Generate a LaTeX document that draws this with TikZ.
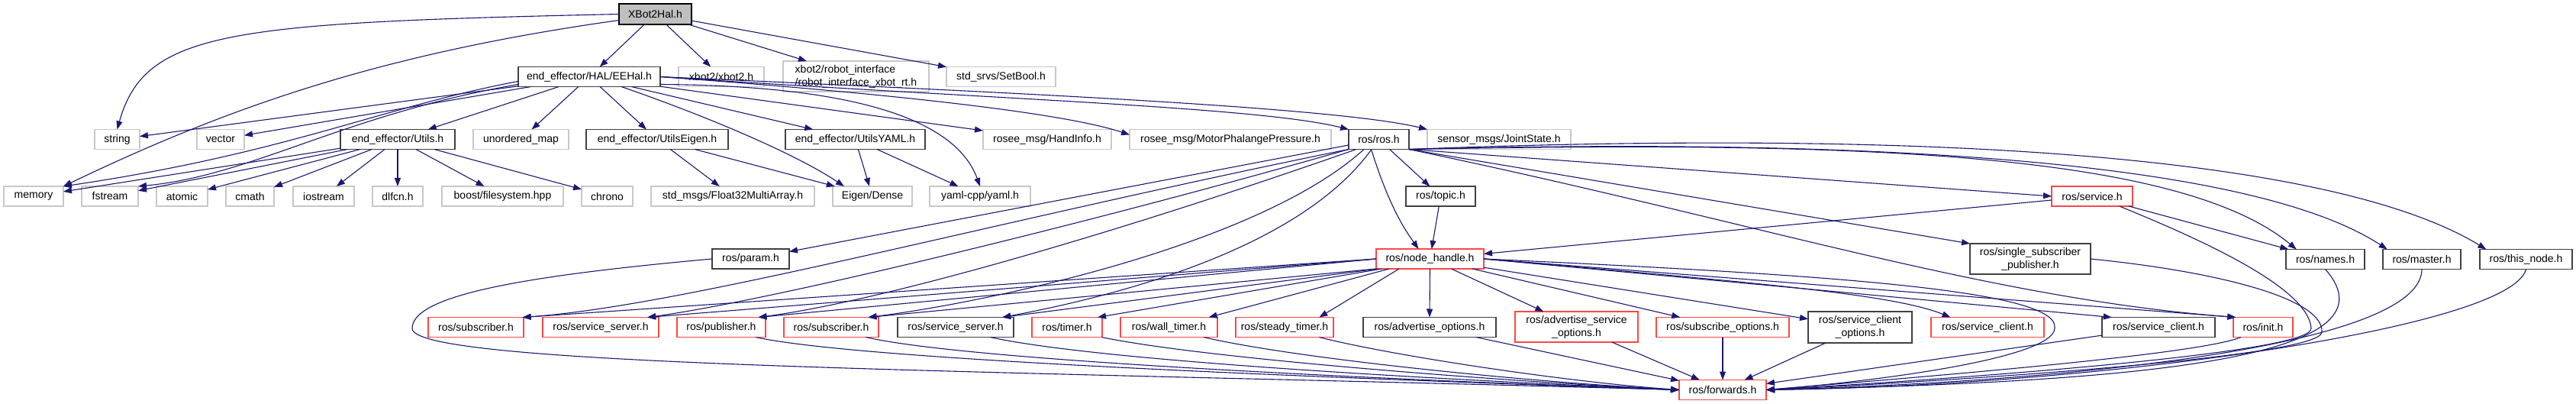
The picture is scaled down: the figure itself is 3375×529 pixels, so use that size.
\documentclass[tikz,border=0pt]{standalone}
\usepackage{fontspec}
\setmainfont{Liberation Sans}
\usetikzlibrary{arrows.meta}
\definecolor{edgec}{RGB}{25,25,112}
\definecolor{grayb}{RGB}{200,200,200}
\definecolor{redb}{RGB}{255,70,70}
\definecolor{darkb}{RGB}{64,64,64}
\definecolor{fillg}{RGB}{191,191,191}
\begin{document}
\begin{tikzpicture}[x=1pt,y=1pt,
  box/.style={draw, line width=1.2pt, minimum height=26pt, inner sep=0pt, outer sep=0pt,
              font=\fontsize{14}{17}\selectfont, fill=white, anchor=center},
  dk/.style={box, draw=darkb, line width=1.4pt},
  gr/.style={box, draw=grayb},
  rd/.style={box, draw=redb},
  ed/.style={draw=edgec, line width=1.1pt, -{Triangle[length=11pt,width=8pt]}},
]
\fill[white] (0,0) rectangle (3375,-529);
\useasboundingbox (0,0) rectangle (3375,-529);

% row 1
\node[box, draw=black, fill=fillg, minimum width=95pt, minimum height=27pt] (xh) at (858.5,-18.5) {XBot2Hal.h};
% row 2
\node[dk, minimum width=186pt] (eehal) at (772,-100.5) {end\_effector/HAL/EEHal.h};
\node[gr, minimum width=112pt] (xbot2) at (945,-100.5) {xbot2/xbot2.h};
\node[gr, minimum width=191pt, minimum height=40pt, align=left] (robif) at (1121.5,-100) {xbot2/robot\_interface\\/robot\_interface\_xbot\_rt.h};
\node[gr, minimum width=143pt] (setbool) at (1311.5,-100.5) {std\_srvs/SetBool.h};
% row 3
\node[gr, minimum width=59pt] (string) at (153.5,-182.5) {string};
\node[gr, minimum width=62pt] (vector) at (289,-182.5) {vector};
\node[dk, minimum width=150pt] (utils) at (521,-182.5) {end\_effector/Utils.h};
\node[gr, minimum width=125pt] (umap) at (682.5,-182.5) {unordered\_map};
\node[dk, minimum width=186pt] (ueigen) at (861,-182.5) {end\_effector/UtilsEigen.h};
\node[dk, minimum width=183pt] (uyaml) at (1120.5,-182.5) {end\_effector/UtilsYAML.h};
\node[gr, minimum width=168pt] (hand) at (1372,-182.5) {rosee\_msg/HandInfo.h};
\node[gr, minimum width=264pt] (motor) at (1612,-182.5) {rosee\_msg/MotorPhalangePressure.h};
\node[dk, minimum width=79pt] (ros) at (1806.5,-182.5) {ros/ros.h};
\node[gr, minimum width=188pt] (joint) at (1964,-182.5) {sensor\_msgs/JointState.h};
% row 4
\node[gr, minimum width=78pt] (memory) at (44,-257) {memory};
\node[gr, minimum width=74pt] (fstream) at (144,-257) {fstream};
\node[gr, minimum width=67pt] (atomic) at (238.5,-257) {atomic};
\node[gr, minimum width=63pt] (cmath) at (327.5,-257) {cmath};
\node[gr, minimum width=80pt] (iostream) at (424,-257) {iostream};
\node[gr, minimum width=66pt] (dlfcn) at (521,-257) {dlfcn.h};
\node[gr, minimum width=159pt] (boost) at (658.5,-257) {boost/filesystem.hpp};
\node[gr, minimum width=67pt] (chrono) at (795.5,-257) {chrono};
\node[gr, minimum width=214pt] (float) at (960,-257) {std\_msgs/Float32MultiArray.h};
\node[gr, minimum width=104pt] (eigen) at (1143,-257) {Eigen/Dense};
\node[gr, minimum width=132pt] (yaml) at (1284,-257) {yaml-cpp/yaml.h};
\node[dk, minimum width=91pt] (topic) at (1887.5,-257) {ros/topic.h};
\node[rd, minimum width=106pt] (service) at (2741,-257) {ros/service.h};
% row 5
\node[dk, minimum width=101pt] (param) at (983.5,-339) {ros/param.h};
\node[rd, minimum width=141pt] (nh) at (1873.5,-339) {ros/node\_handle.h};
\node[dk, minimum width=158pt, minimum height=40pt, align=center] (single) at (2660,-339) {ros/single\_subscriber\\\_publisher.h};
\node[dk, minimum width=103pt] (names) at (3046.5,-339.5) {ros/names.h};
\node[dk, minimum width=102pt] (master) at (3173,-339.5) {ros/master.h};
\node[dk, minimum width=121pt] (thisnode) at (3309.5,-339.5) {ros/this\_node.h};
% row 6
\node[rd, minimum width=125pt] (sub1) at (623.5,-428.5) {ros/subscriber.h};
\node[rd, minimum width=152pt] (ss1) at (787,-428.5) {ros/service\_server.h};
\node[rd, minimum width=116pt] (pub) at (945,-428.5) {ros/publisher.h};
\node[rd, minimum width=124pt] (sub2) at (1089,-428.5) {ros/subscriber.h};
\node[dk, minimum width=152pt] (ss2) at (1252,-428.5) {ros/service\_server.h};
\node[rd, minimum width=92pt] (timer) at (1398,-428.5) {ros/timer.h};
\node[rd, minimum width=127pt] (wall) at (1531.5,-428.5) {ros/wall\_timer.h};
\node[rd, minimum width=128pt] (steady) at (1683,-428.5) {ros/steady\_timer.h};
\node[dk, minimum width=174pt] (advopt) at (1873,-428.5) {ros/advertise\_options.h};
\node[rd, minimum width=161pt, minimum height=40pt, align=center] (advsrv) at (2065.5,-428) {ros/advertise\_service\\\_options.h};
\node[rd, minimum width=174pt] (subopt) at (2257,-428.5) {ros/subscribe\_options.h};
\node[dk, minimum width=136pt, minimum height=41pt, align=center] (scopt) at (2437,-428.5) {ros/service\_client\\\_options.h};
\node[rd, minimum width=148pt] (sc1) at (2604,-428.5) {ros/service\_client.h};
\node[dk, minimum width=148pt] (sc2) at (2828,-428.5) {ros/service\_client.h};
\node[rd, minimum width=78pt] (init) at (2965,-428.5) {ros/init.h};
% row 7
\node[rd, minimum width=114pt] (fwd) at (2257,-510.5) {ros/forwards.h};

% XBot2Hal.h
\draw[ed] (xh) -- (eehal);
\draw[ed] (xh) -- (xbot2);
\draw[ed] (xh) -- (robif);
\draw[ed] (xh) -- (setbool);
\draw[ed] (xh.west) .. controls (300,-30) and (190,-40) .. (string.north);
\draw[ed] ([yshift=-8pt]xh.west) .. controls (500,-70) and (300,-140) .. (memory.north east);

% EEHal.h
\draw[ed] (eehal) -- (string);
\draw[ed] (eehal) -- (vector);
\draw[ed] ([yshift=-6pt]eehal.west) .. controls (500,-140) and (380,-200) .. (memory.north east);
\draw[ed] ([yshift=-10pt]eehal.west) .. controls (450,-150) and (330,-230) .. (fstream.north east);
\draw[ed] (eehal) -- (utils);
\draw[ed] (eehal) -- (umap);
\draw[ed] (eehal) -- (ueigen);
\draw[ed] ([xshift=42pt]eehal.south) .. controls (920,-150) and (1040,-200) .. ([xshift=15pt]eigen.north west);
\draw[ed] (eehal) -- (uyaml);
\draw[ed] ([yshift=3pt]eehal.south east) .. controls (1100,-112) and (1250,-150) .. (yaml.north);
\draw[ed] (eehal) -- (hand);
\draw[ed] (eehal.east) .. controls (1200,-125) and (1400,-150) .. ([yshift=6pt]motor.west);
\draw[ed] (eehal.east) .. controls (1300,-130) and (1650,-140) .. (ros.north west);
\draw[ed] (eehal.east) .. controls (1300,-120) and (1750,-140) .. (joint.north west);

% Utils.h
\foreach \t in {memory,fstream,atomic,cmath,iostream,dlfcn,boost,chrono}
  \draw[ed] (utils) -- (\t);
% UtilsEigen.h, UtilsYAML.h
\draw[ed] (ueigen) -- (float);
\draw[ed] (ueigen) -- (eigen);
\draw[ed] (uyaml) -- (eigen);
\draw[ed] (uyaml) -- (yaml);

% ros/ros.h
\draw[ed] (ros) -- (param);
\draw[ed] (ros) -- (topic);
\draw[ed] ([xshift=-10pt]ros.south) .. controls (1820,-270) and (1840,-300) .. ([xshift=-15pt]nh.north);
\draw[ed] (ros.south east) -- (service.west);
\draw[ed] (ros.south east) -- (single.north west);
\draw[ed] (ros.south east) .. controls (2300,-290) and (2600,-390) .. (init.160);
\draw[ed] (ros.south east) .. controls (2400,-185) and (2850,-195) .. (names.161);
\draw[ed] (ros.south east) .. controls (2450,-180) and (2950,-210) .. (master.164);
\draw[ed] (ros.south east) .. controls (2500,-170) and (3050,-200) .. (thisnode.166);
\draw[ed] (ros.south west) .. controls (1300,-290) and (900,-400) .. (sub1.12);
\draw[ed] (ros.south west) .. controls (1400,-300) and (1000,-395) .. (ss1.12);
\draw[ed] ([xshift=10pt]ros.south west) .. controls (1450,-310) and (1150,-395) .. (pub.15);
\draw[ed] ([xshift=20pt]ros.south west) .. controls (1650,-320) and (1300,-395) .. (sub2.15);
\draw[ed] ([xshift=30pt]ros.south west) .. controls (1700,-330) and (1450,-390) .. (ss2.12);

% topic, service
\draw[ed] (topic) -- (nh);
\draw[ed] (service) -- (nh);
\draw[ed] (service) -- (names);

% node_handle.h
\draw[ed] (nh.west) -- (sub1.12);
\draw[ed] (nh.west) -- (ss1.12);
\draw[ed] (nh.west) -- (pub.15);
\draw[ed] (nh.south west) -- (sub2.15);
\draw[ed] ([xshift=2pt]nh.south west) -- (ss2.12);
\draw[ed] ([xshift=7pt]nh.south west) -- (timer.18);
\draw[ed] ([xshift=17pt]nh.south west) -- (wall.14);
\draw[ed] ([xshift=30pt]nh.south west) -- (steady.16);
\draw[ed] (nh.south) -- (advopt.north);
\draw[ed] (nh) -- (advsrv);
\draw[ed] (nh) -- (subopt);
\draw[ed] (nh) -- (scopt);
\draw[ed] (nh.east) .. controls (2300,-370) and (2480,-385) .. (sc1.165);
\draw[ed] (nh.east) -- (sc2.168);
\draw[ed] (nh.east) -- (init.160);
\draw[ed] (nh.east) .. controls (2400,-360) and (2700,-380) .. (2692,-430) .. controls (2690,-470) and (2450,-500) .. (fwd.east);

% to ros/forwards.h
\draw[ed] (param.west) .. controls (700,-360) and (540,-385) .. (540,-430) .. controls (540,-480) and (1300,-485) .. (fwd.west);
\draw[ed] (pub.-16) .. controls (1140,-475) and (1900,-500) .. (fwd.west);
\draw[ed] (sub2.-16) .. controls (1280,-475) and (1900,-500) .. (fwd.west);
\draw[ed] (ss2.-16) .. controls (1450,-475) and (1950,-500) .. (fwd.west);
\draw[ed] (timer.-16) .. controls (1580,-470) and (1980,-500) .. (fwd.west);
\draw[ed] (wall.-16) .. controls (1700,-470) and (2000,-500) .. (fwd.west);
\draw[ed] (steady.-16) .. controls (1820,-465) and (2050,-500) .. (fwd.west);
\draw[ed] (advopt) -- (fwd);
\draw[ed] (advsrv) -- (fwd);
\draw[ed] (subopt) -- (fwd);
\draw[ed] (scopt) -- (fwd);
\draw[ed] (sc2) -- (fwd);
\draw[ed] ([xshift=10pt]init.south west) .. controls (2880,-465) and (2500,-495) .. (fwd.east);
\draw[ed] (service.-20) .. controls (2900,-320) and (3025,-380) .. (3028,-430) .. controls (3030,-465) and (2500,-500) .. (fwd.east);
\draw[ed] (single.east) .. controls (2900,-355) and (3045,-390) .. (3042,-435) .. controls (3040,-470) and (2500,-502) .. (fwd.east);
\draw[ed] (names.south) .. controls (3150,-470) and (2800,-500) .. (fwd.east);
\draw[ed] (master.south) .. controls (3173,-455) and (2700,-500) .. (fwd.east);
\draw[ed] (thisnode.south) .. controls (3290,-430) and (2750,-505) .. (fwd.east);
\end{tikzpicture}
\end{document}
